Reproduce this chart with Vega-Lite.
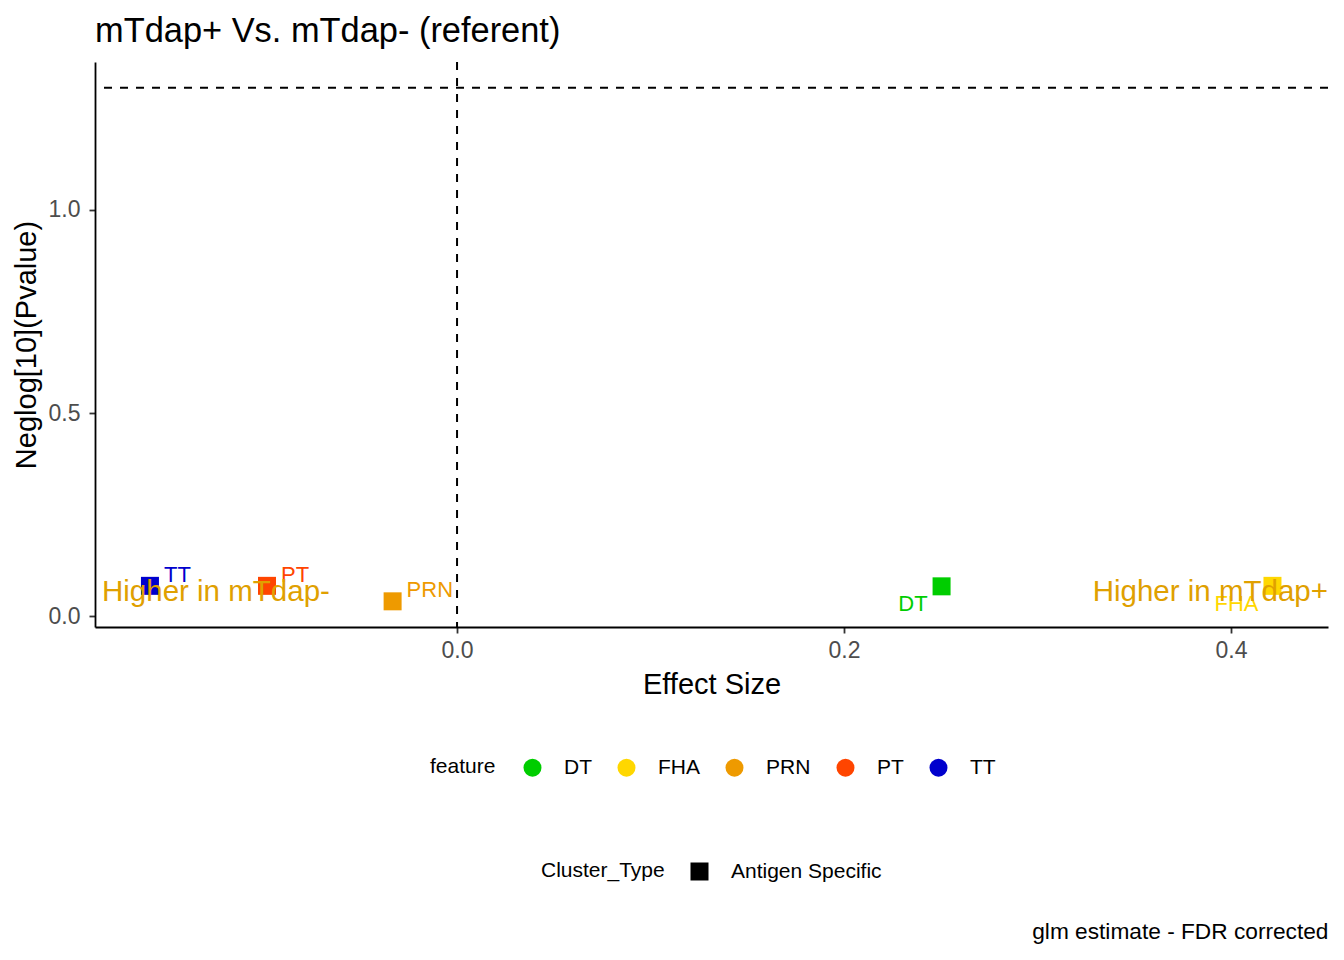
{
  "$schema": "https://vega.github.io/schema/vega-lite/v6.json",
  "width": 1233,
  "height": 565,
  "autosize": {"type": "none"},
  "padding": {"left": 95, "top": 62, "right": 16, "bottom": 333},
  "title": {
    "text": "mTdap+ Vs. mTdap- (referent)",
    "anchor": "start",
    "frame": "group",
    "fontSize": 34.4,
    "fontWeight": "normal",
    "color": "black",
    "offset": 12
  },
  "datasets": {
    "points": [
      {"feature": "DT", "Cluster_Type": "Antigen Specific", "effect": 0.2504, "neglogp": 0.0735},
      {"feature": "FHA", "Cluster_Type": "Antigen Specific", "effect": 0.4214, "neglogp": 0.0747},
      {"feature": "PRN", "Cluster_Type": "Antigen Specific", "effect": -0.0333, "neglogp": 0.0366},
      {"feature": "PT", "Cluster_Type": "Antigen Specific", "effect": -0.0982, "neglogp": 0.0747},
      {"feature": "TT", "Cluster_Type": "Antigen Specific", "effect": -0.1587, "neglogp": 0.0747}
    ],
    "notes": [
      {"side": "minus", "note": "Higher in mTdap-", "effect": -0.1835, "neglogp": 0.06},
      {"side": "plus", "note": "Higher in mTdap+", "effect": 0.4501, "neglogp": 0.06}
    ],
    "thresholds": [{"effect": 0, "neglogp": 1.30103}]
  },
  "config": {
    "font": "Liberation Sans",
    "view": {"stroke": null},
    "axis": {
      "grid": false,
      "domainColor": "black",
      "domainWidth": 1.8,
      "tickColor": "#333333",
      "tickWidth": 1.8,
      "tickSize": 6,
      "labelColor": "#4D4D4D",
      "labelFontSize": 23,
      "titleColor": "black",
      "titleFontSize": 29,
      "titleFontWeight": "normal"
    },
    "legend": {
      "labelFontSize": 21,
      "titleFontSize": 21,
      "titleFontWeight": "normal",
      "labelColor": "black",
      "titleColor": "black",
      "symbolSize": 324,
      "titleOrient": "left",
      "labelOffset": 21,
      "columnPadding": 24,
      "titlePadding": 26,
      "symbolStrokeWidth": 0
    }
  },
  "resolve": {"scale": {"x": "independent"}},
  "layer": [
    {
      "layer": [
        {
          "data": {"name": "thresholds"},
          "mark": {"type": "rule", "strokeDash": [8, 8], "strokeWidth": 2, "color": "black"},
          "encoding": {
            "y": {"field": "neglogp", "type": "quantitative"}
          }
        },
        {
          "data": {"name": "points"},
          "mark": {"type": "point", "filled": true, "size": 324, "opacity": 1},
          "encoding": {
            "x": {
              "field": "effect",
              "type": "quantitative",
              "scale": {"domain": [-0.1871, 0.4501], "nice": false, "zero": false},
              "axis": {"title": "Effect Size", "values": [0, 0.2, 0.4], "format": ".1f", "labelPadding": 6, "titlePadding": 8}
            },
            "y": {
              "field": "neglogp",
              "type": "quantitative",
              "scale": {"domain": [-0.0266, 1.3642], "nice": false, "zero": false},
              "axis": {"title": "Neglog[10](Pvalue)", "values": [0, 0.5, 1], "format": ".1f", "labelPadding": 9, "titlePadding": 7}
            },
            "color": {
              "field": "feature",
              "type": "nominal",
              "scale": {
                "domain": ["DT", "FHA", "PRN", "PT", "TT"],
                "range": ["#00CD00", "#FFD700", "#EE9A00", "#FF4500", "#0000CD"]
              },
              "legend": {
                "orient": "none",
                "legendX": 335,
                "legendY": 695,
                "direction": "horizontal",
                "symbolType": "circle",
                "title": "feature"
              }
            },
            "shape": {
              "field": "Cluster_Type",
              "type": "nominal",
              "scale": {"range": ["square"]},
              "legend": {
                "orient": "none",
                "legendX": 446,
                "legendY": 799,
                "direction": "horizontal",
                "title": "Cluster_Type",
                "titlePadding": 24,
                "symbolFillColor": "black",
                "symbolStrokeColor": "black"
              }
            }
          }
        },
        {
          "data": {"name": "points"},
          "transform": [{"filter": {"field": "feature", "oneOf": ["TT", "PT", "PRN"]}}],
          "mark": {"type": "text", "align": "left", "baseline": "middle", "dx": 14, "dy": -11, "fontSize": 22},
          "encoding": {
            "x": {"field": "effect", "type": "quantitative"},
            "y": {"field": "neglogp", "type": "quantitative"},
            "text": {"field": "feature"},
            "color": {"field": "feature", "type": "nominal", "legend": null}
          }
        },
        {
          "data": {"name": "points"},
          "transform": [{"filter": {"field": "feature", "oneOf": ["DT", "FHA"]}}],
          "mark": {"type": "text", "align": "right", "baseline": "middle", "dx": -14, "dy": 18, "fontSize": 22},
          "encoding": {
            "x": {"field": "effect", "type": "quantitative"},
            "y": {"field": "neglogp", "type": "quantitative"},
            "text": {"field": "feature"},
            "color": {"field": "feature", "type": "nominal", "legend": null}
          }
        },
        {
          "data": {"name": "notes"},
          "transform": [{"filter": {"field": "side", "equal": "minus"}}],
          "mark": {"type": "text", "align": "left", "baseline": "middle", "fontSize": 29.5, "color": "#E0A000"},
          "encoding": {
            "x": {"field": "effect", "type": "quantitative"},
            "y": {"field": "neglogp", "type": "quantitative"},
            "text": {"field": "note"}
          }
        },
        {
          "data": {"name": "notes"},
          "transform": [{"filter": {"field": "side", "equal": "plus"}}],
          "mark": {"type": "text", "align": "right", "baseline": "middle", "fontSize": 29.5, "color": "#E0A000"},
          "encoding": {
            "x": {"field": "effect", "type": "quantitative"},
            "y": {"field": "neglogp", "type": "quantitative"},
            "text": {"field": "note"}
          }
        }
      ]
    },
    {
      "data": {"name": "thresholds"},
      "mark": {"type": "rule", "strokeDash": [8, 8], "strokeWidth": 2, "color": "black"},
      "encoding": {
        "x": {
          "field": "effect",
          "type": "quantitative",
          "scale": {"domain": [-0.1871, 0.4501], "nice": false, "zero": false},
          "axis": {
            "orient": "bottom",
            "domain": false,
            "ticks": false,
            "labels": false,
            "grid": false,
            "title": "glm estimate - FDR corrected",
            "titleFontSize": 22.7,
            "titleColor": "black",
            "titleAnchor": "end",
            "titleAlign": "right",
            "titleBaseline": "alphabetic",
            "titleX": 1233,
            "titleY": 311
          }
        }
      }
    }
  ]
}
